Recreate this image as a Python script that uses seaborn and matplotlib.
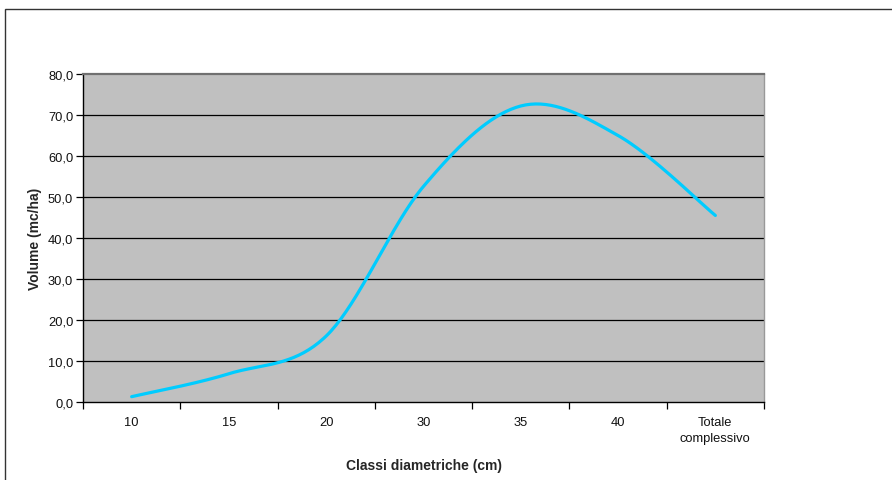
import numpy as np
import pandas as pd
import matplotlib
matplotlib.use("Agg")
import matplotlib.pyplot as plt
from matplotlib.patches import Rectangle
import seaborn as sns

# Volume per diameter class
categories = ["10", "15", "20", "30", "35", "40", "Totale\ncomplessivo"]
volumes = [1.3, 6.9, 16.1, 52.6, 72.2, 65.0, 45.5]
y_ticks = [0, 10, 20, 30, 40, 50, 60, 70, 80]
y_tick_labels = ["0,0", "10,0", "20,0", "30,0", "40,0", "50,0", "60,0", "70,0", "80,0"]

sns.set_theme(style="white")
plt.rcParams["font.family"] = ["Liberation Sans", "DejaVu Sans"]


def smooth_curve(xs, ys, steps=40):
    """Catmull-Rom style cubic Bezier through every point (Excel 'smoothed line')."""
    pts = np.column_stack([xs, ys]).astype(float)
    ext = np.vstack([pts[0], pts, pts[-1]])
    out = []
    t = np.linspace(0, 1, steps)[:, None]
    for i in range(len(pts) - 1):
        p0, p1, p2, p3 = ext[i], ext[i + 1], ext[i + 2], ext[i + 3]
        b0 = p1
        b1 = p1 + (p2 - p0) / 6.0
        b2 = p2 - (p3 - p1) / 6.0
        b3 = p2
        seg = ((1 - t) ** 3) * b0 + 3 * ((1 - t) ** 2) * t * b1 + 3 * (1 - t) * t ** 2 * b2 + t ** 3 * b3
        out.append(seg if i == 0 else seg[1:])
    return np.vstack(out)


x_pos = np.arange(len(categories))
curve = smooth_curve(x_pos, volumes)
df = pd.DataFrame({"x": curve[:, 0], "volume": curve[:, 1]})

fig = plt.figure(figsize=(8.92, 4.81), dpi=100)
fig.patch.set_facecolor("white")
ax = fig.add_axes([83 / 892, 1 - 403 / 481, (764 - 83) / 892, (403 - 75) / 481])
ax.set_facecolor("#C0C0C0")

# outer chart frame
fig.patches.append(Rectangle((5 / 892, -0.2), 2.0, 1.2 - 10 / 481,
                             transform=fig.transFigure, fill=False,
                             edgecolor="#333333", linewidth=1.0, zorder=0))

for yv in y_ticks[1:-1]:
    ax.axhline(yv, color="black", linewidth=0.9, zorder=1)

sns.lineplot(data=df, x="x", y="volume", ax=ax, sort=False, estimator=None,
             color="#00CCFF", linewidth=2.3, zorder=3)

ax.set_xlim(-0.5, len(categories) - 0.5)
ax.set_ylim(0, 80)

ax.set_xticks(x_pos)
ax.set_xticklabels(categories, fontsize=9.3, linespacing=1.45)
ax.set_xticks(np.arange(len(categories) + 1) - 0.5, minor=True)
ax.tick_params(axis="x", which="major", length=0, pad=10, colors="#111111")
ax.tick_params(axis="x", which="minor", length=5, width=0.9, color="black", direction="out")
ax.xaxis.set_tick_params(bottom=True, which="both")

ax.set_yticks(y_ticks)
ax.set_yticklabels(y_tick_labels, fontsize=9.3, color="#111111")
ax.tick_params(axis="y", length=5, width=0.9, color="black", direction="out", pad=2, left=True)

for side in ["left", "bottom"]:
    ax.spines[side].set_color("black")
    ax.spines[side].set_linewidth(1.0)
ax.spines["top"].set_color("#707070")
ax.spines["top"].set_linewidth(1.6)
ax.spines["right"].set_color("#999999")
ax.spines["right"].set_linewidth(1.0)
for s in ax.spines.values():
    s.set_visible(True)

ax.set_xlabel("Classi diametriche (cm)", fontsize=10, fontweight="bold", labelpad=10)
ax.set_ylabel("Volume (mc/ha)", fontsize=10, fontweight="bold", labelpad=4)

fig.savefig("out.png", dpi=100)
